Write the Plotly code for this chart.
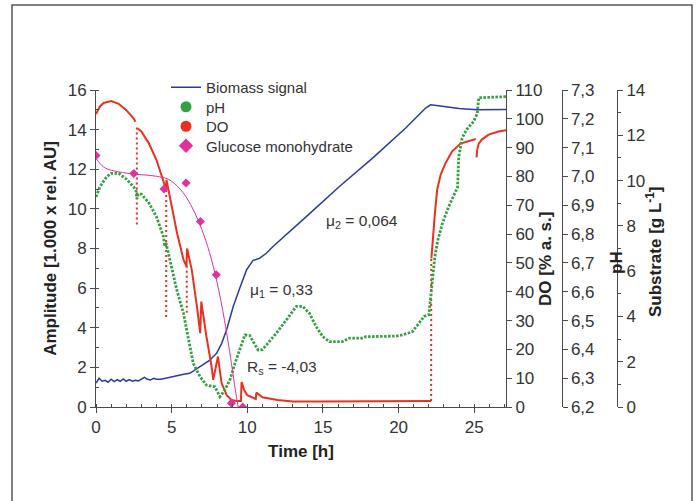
import plotly.graph_objects as go

# ---------------- data ----------------
# Biomass signal (left axis, 1.000 x rel. AU)
bio_t = [0, 0.2, 0.4, 0.6, 0.8, 1.0, 1.2, 1.4, 1.6, 1.8, 2.0, 2.2, 2.4, 2.6, 2.8, 3.0, 3.2, 3.4,
         3.6, 3.8, 4.0, 4.3, 4.6, 4.9, 5.2, 5.5, 5.8, 6.2, 6.5, 6.88, 7.2, 7.5, 7.97, 8.3, 8.63,
         9.07, 9.5, 9.95, 10.38, 10.8, 11.26, 11.7, 13.9, 16.09, 18.28, 20.47, 21.79, 22.12,
         22.5, 23.5, 24.0, 25.2, 27.1]
bio_v = [1.2, 1.45, 1.3, 1.35, 1.25, 1.4, 1.28, 1.38, 1.3, 1.42, 1.3, 1.38, 1.3, 1.35, 1.32, 1.42,
         1.5, 1.4, 1.36, 1.45, 1.4, 1.4, 1.45, 1.53, 1.55, 1.6, 1.65, 1.7, 1.85, 2.04, 2.2, 2.35,
         2.71, 3.2, 3.89, 5.07, 6.0, 6.92, 7.4, 7.5, 7.76, 8.1, 9.61, 11.13, 12.56, 14.08, 15.09,
         15.25, 15.22, 15.12, 15.07, 15.0, 15.02]

# pH
ph_t = [0.0, 0.25, 0.5, 0.75, 1.0, 1.5, 2.0, 2.5, 2.65, 2.7, 2.8, 3.0, 3.5, 4.0, 4.46, 4.55, 4.62,
        4.9, 5.34, 5.78, 6.0, 6.2, 6.43, 6.88, 7.3, 7.86, 8.19, 8.52, 8.85, 9.18, 9.5, 9.84, 10.16,
        10.71, 11.0, 11.92, 12.58, 13.24, 13.67, 14.11, 14.55, 14.99, 15.43, 16.3, 16.74, 17.6,
        17.84, 19.8, 20.25, 20.9, 21.35, 21.68, 22.0, 22.1, 22.26, 22.4, 22.6, 22.9, 23.3, 23.75,
        23.9, 23.97, 24.2, 24.5, 24.95, 25.2, 25.3, 27.1]
ph_v = [6.929, 6.963, 6.984, 7.001, 7.011, 7.011, 6.991, 6.963, 6.949, 6.922, 6.939, 6.939, 6.908,
        6.860, 6.791, 6.757, 6.771, 6.710, 6.606, 6.525, 6.468, 6.410, 6.351, 6.305, 6.276, 6.270,
        6.236, 6.259, 6.294, 6.351, 6.398, 6.450, 6.448, 6.398, 6.399, 6.456, 6.502, 6.549, 6.549,
        6.525, 6.479, 6.444, 6.427, 6.427, 6.439, 6.439, 6.444, 6.446, 6.450, 6.461, 6.491, 6.514,
        6.520, 6.571, 6.640, 6.723, 6.780, 6.838, 6.894, 6.949, 6.963, 7.066, 7.133, 7.163, 7.190,
        7.218, 7.273, 7.277]

# DO [% a.s.] main signal
do_t = [0, 0.25, 0.5, 1.0, 1.5, 2.0, 2.5, 2.6, None,
        2.74, 3.0, 3.5, 4.0, 4.5, 4.62,
        4.66, 4.92, 5.36, 5.79, 5.98,
        6.02, 6.33, 6.67, 6.89,
        6.96, 7.3, 7.64, 7.75,
        8.06, 8.3, 8.64, 8.96, 9.3, 9.58,
        9.62, 9.8, 10.0, 10.5, 10.56,
        10.6, 11.0, 12.0, 13.0, 15.0, 20.0, 22.15, None,
        22.17, 22.29, 22.4, 22.55, 22.78, 23.1, 23.54, 24.09, 24.97, 25.1, None,
        25.15, 25.2, 25.3, 25.5, 25.95, 26.6, 27.1]
do_v = [101.7, 104.2, 105.5, 106.2, 105.2, 103.0, 100.1, 99.0, None,
        96.7, 95.6, 91.4, 85.7, 77.6, 76.0,
        78.8, 71.8, 60.3, 51.0, 48.8,
        55.0, 47.6, 34.9, 25.6,
        36.6, 24.4, 14.0, 9.4,
        17.5, 8.3, 4.1, 2.4, 2.1, 2.1,
        8.7, 5.8, 4.1, 2.9, 2.8,
        5.0, 3.4, 2.4, 1.9, 1.9, 1.9, 2.1, None,
        51.6, 61.5, 67.2, 75.4, 80.6, 84.6, 88.7, 91.4, 92.8, 93.0, None,
        86.6, 89.4, 91.4, 92.8, 94.5, 95.6, 96.0]
# DO sparse (dotted) excursions
do_dip_t = [2.7, 2.7, None, 4.64, 4.64, None, 6.0, 6.0, None, 22.15, 22.16]
do_dip_v = [97.0, 63.3, None, 77.0, 30.2, None, 49.0, 32.3, None, 2.1, 51.6]

# Glucose monohydrate [g/L]
glc_t = [0.0, 2.5, 4.5, 5.95, 6.9, 7.95, 8.95, 9.7]
glc_v = [11.11, 10.31, 9.63, 9.89, 8.19, 5.84, 0.17, 0.0]
glc_fit_t = [0, 0.5, 1, 2, 3, 4, 4.8, 5.5, 6, 6.5, 7, 7.5, 8, 8.5, 9, 9.2, 9.4]
glc_fit_v = [10.98, 10.6, 10.46, 10.33, 10.26, 10.19, 10.05, 9.67, 9.23, 8.62, 7.83, 6.83, 5.51,
             3.81, 1.71, 0.79, 0.0]

legend_names = ["Biomass signal", "pH", "DO", "Glucose monohydrate"]

# ---------------- style ----------------
BLUE = "#2b3b9b"
GREEN = "#35a043"
RED = "#ea311f"
MAG = "#e2309c"
AX = "#4a4a4a"
FONT = "Liberation Sans, Arial, sans-serif"

L, R, T, B = 96, 60, 90, 94
W, H = 697, 501
pw = W - L - R
ph_ = H - T - B


def px_x(p):
    return (p - L) / pw


def px_y(p):
    return (H - B - p) / ph_


fig = go.Figure()

# legend entries (each in its own legend for exact row spacing)
fig.add_trace(go.Scatter(x=bio_t, y=bio_v, mode="lines", name=legend_names[0],
                         line=dict(color=BLUE, width=1.5), yaxis="y", legend="legend"))
fig.add_trace(go.Scatter(x=[None], y=[None], mode="markers", name=legend_names[1],
                         marker=dict(color=GREEN, size=11, symbol="circle"), yaxis="y",
                         legend="legend2"))
fig.add_trace(go.Scatter(x=[None], y=[None], mode="markers", name=legend_names[2],
                         marker=dict(color=RED, size=11, symbol="circle"), yaxis="y",
                         legend="legend3"))
fig.add_trace(go.Scatter(x=[None], y=[None], mode="markers", name=legend_names[3],
                         marker=dict(color=MAG, size=11, symbol="diamond"), yaxis="y",
                         legend="legend4"))

# pH
fig.add_trace(go.Scatter(x=ph_t, y=ph_v, mode="lines", showlegend=False,
                         line=dict(color=GREEN, width=2.8, dash="2.5px,1.5px"), yaxis="y3"))
# glucose
fig.add_trace(go.Scatter(x=glc_fit_t, y=glc_fit_v, mode="lines", showlegend=False,
                         line=dict(color=MAG, width=1, shape="spline"), yaxis="y4"))
fig.add_trace(go.Scatter(x=glc_t, y=glc_v, mode="markers", showlegend=False,
                         marker=dict(color=MAG, size=7, symbol="diamond"), yaxis="y4"))
# DO
fig.add_trace(go.Scatter(x=do_t, y=do_v, mode="lines", showlegend=False,
                         line=dict(color=RED, width=2), yaxis="y2", connectgaps=False))
fig.add_trace(go.Scatter(x=do_dip_t, y=do_dip_v, mode="lines", showlegend=False,
                         line=dict(color=RED, width=2, dash="2px,3px"), yaxis="y2"))

common = dict(showline=True, linecolor=AX, linewidth=1, ticks="outside", ticklen=5,
              tickcolor=AX, showgrid=False, zeroline=False,
              tickfont=dict(size=17, color="#333"))

leg_common = dict(x=px_x(166), xanchor="left", yanchor="top", bgcolor="rgba(0,0,0,0)",
                  font=dict(size=15, color="#333"), itemsizing="trace")
row_y = [88, 107.5, 127, 146.5]

fig.update_layout(
    width=W, height=H, margin=dict(l=L, r=R, t=T, b=B, autoexpand=False),
    paper_bgcolor="white", plot_bgcolor="white",
    font=dict(family=FONT, color="#222"),
    separators=",.",
    xaxis=dict(domain=[0, px_x(506)], range=[0, 27.1], dtick=5, tick0=0,
               title=dict(text="<b>Time [h]</b>", font=dict(size=17), standoff=8),
               minor=dict(dtick=1, ticks="inside", ticklen=3, tickcolor=AX),
               **common),
    yaxis=dict(range=[0, 16], dtick=2, tick0=0,
               title=dict(text="<b>Amplitude [1.000 x rel. AU]</b>", font=dict(size=17), standoff=6),
               minor=dict(dtick=1, ticks="inside", ticklen=3, tickcolor=AX),
               **common),
    yaxis2=dict(overlaying="y", side="right", anchor="x", range=[0, 110], dtick=10,
                **common),
    yaxis3=dict(overlaying="y", side="right", anchor="free", position=px_x(561.5),
                range=[6.2, 7.3], dtick=0.1, tick0=6.2, tickformat=".1f",
                **common),
    yaxis4=dict(overlaying="y", side="right", anchor="free", position=px_x(617),
                range=[0, 14], dtick=2,
                minor=dict(dtick=1, ticks="outside", ticklen=3, tickcolor=AX),
                **common),
    legend=dict(y=px_y(row_y[0] - 17), **leg_common),
    legend2=dict(y=px_y(row_y[1] - 17), **leg_common),
    legend3=dict(y=px_y(row_y[2] - 17), **leg_common),
    legend4=dict(y=px_y(row_y[3] - 17), **leg_common),
    showlegend=True,
)

# right-hand axis titles
title_font = dict(size=17, color="#222", family=FONT)
for txt, xp, yp in [("<b>DO [% a. s.]</b>", 545, 259),
                    ("<b>pH</b>", 616, 263),
                    ("<b>Substrate [g L<sup>-1</sup>]</b>", 654, 252)]:
    fig.add_annotation(x=px_x(xp), y=px_y(yp), xref="paper", yref="paper", text=txt,
                       textangle=-90, showarrow=False, xanchor="center", yanchor="middle",
                       font=title_font)

ann_font = dict(size=15.5, color="#333", family=FONT)
fig.add_annotation(x=15.1, y=9.36, xref="x", yref="y", text="μ<sub>2</sub> = 0,064",
                   showarrow=False, xanchor="left", font=ann_font)
fig.add_annotation(x=10.03, y=5.9, xref="x", yref="y", text="μ<sub>1</sub> = 0,33",
                   showarrow=False, xanchor="left", font=ann_font)
fig.add_annotation(x=9.84, y=1.97, xref="x", yref="y", text="R<sub>s</sub> = -4,03",
                   showarrow=False, xanchor="left", font=ann_font)

# outer frame
fig.add_shape(type="rect", xref="paper", yref="paper",
              x0=px_x(12), x1=px_x(692), y0=px_y(506), y1=px_y(5),
              line=dict(color="#555", width=1.5), fillcolor="rgba(0,0,0,0)", layer="below")

fig.write_html("out.html", config={"displayModeBar": False},
               post_script="document.body.style.margin='0px';document.body.style.overflow='hidden';")
